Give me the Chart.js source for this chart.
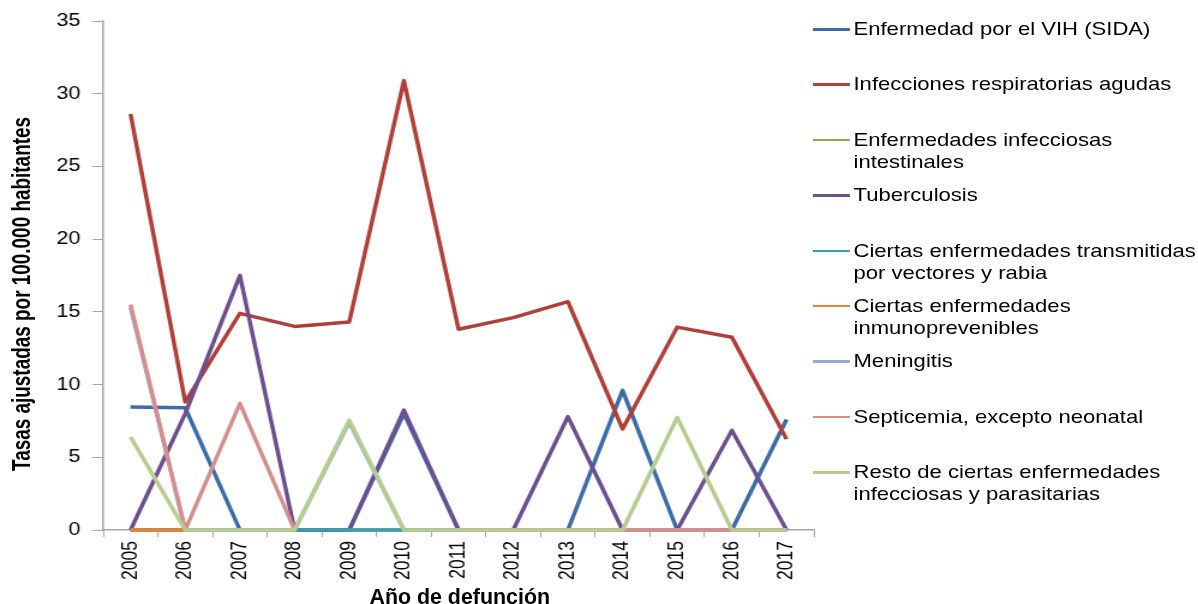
<!DOCTYPE html>
<html>
<head>
<meta charset="utf-8">
<script src="https://cdn.jsdelivr.net/npm/chart.js@4.4.1/dist/chart.umd.min.js"></script>
<style>
  html, body { margin: 0; padding: 0; background: #fff; }
  body { width: 1198px; height: 604px; overflow: hidden; position: relative; }
  /* the reference is horizontally stretched, so the whole stage is too */
  #stage { position: absolute; left: 0; top: 0; width: 998px; height: 604px; transform: scaleX(1.2004); transform-origin: 0 0; }
  #chart { position: absolute; left: 0; top: 0; }
  .title { position: absolute; font: bold 22px 'Liberation Sans', Arial, sans-serif; white-space: nowrap; color: #000; }
  .ytitle { left: 18px; top: 294px; transform: translate(-50%, -50%) rotate(-90deg) scale(0.86, 1); }
  .xtitle { left: 383px; top: 597px; transform: translate(-50%, -50%) scale(0.81, 1); font-size: 22px; }
  #legend { position: absolute; left: 677px; top: 18px; font: 18.4px 'Liberation Sans', Arial, sans-serif; color: #000; }
  .legend-item { position: relative; height: 55.4px; padding-left: 34px; line-height: 22px; white-space: pre; }
  .legend-line { position: absolute; left: 0; top: 10px; width: 31px; height: 2.5px; }
</style>
</head>
<body>
<div id="stage">
  <canvas id="chart" width="998" height="604"></canvas>
  <div class="title ytitle">Tasas ajustadas por 100.000 habitantes</div>
  <div class="title xtitle">Año de defunción</div>
  <div id="legend"></div>
</div>
<script>
(function(){
    'use strict';

    const years = ['2005','2006','2007','2008','2009','2010','2011','2012','2013','2014','2015','2016','2017'];

    const vih          = [8.45, 8.4, 0, 0, 0, 8.0, 0, 0, 0, 9.6, 0, 0, 7.6];
    const respiratorias= [28.6, 8.8, 14.9, 14.0, 14.3, 30.9, 13.8, 14.6, 15.7, 6.95, 13.95, 13.25, 6.25];
    const intestinales = [0, 0, 0, 0, 0, 0, 0, 0, 0, 0, 0, 0, 0];
    const tuberculosis = [0, 8.0, 17.5, 0, 0, 8.25, 0, 0, 7.8, 0, 0, 6.85, 0];
    const vectores     = [0, 0, 0, 0, 0, 0, 0, 0, 0, 0, 0, 0, 0];
    const inmuno       = [0, 0, 0, 0, null, null, 0, 0, 0, 0, 0, 0, 0];
    const meningitis   = [15.3, 0, 0, 0, 7.4, 0, 0, 0, 0, 0, 0, 0, 0];
    const septicemia   = [15.5, 0, 8.7, 0, null, null, 0, 0, 0, 0, 0, 0, 0];
    const resto        = [6.4, 0, 0, 0, 7.55, 0, 0, 0, 0, 0, 7.75, 0, 0];

    // legend wraps as in the original
    const seriesNames = [
        'Enfermedad por el VIH (SIDA)',
        'Infecciones respiratorias agudas',
        'Enfermedades infecciosas\nintestinales',
        'Tuberculosis',
        'Ciertas enfermedades transmitidas\npor vectores y rabia',
        'Ciertas enfermedades\ninmunoprevenibles',
        'Meningitis',
        'Septicemia, excepto neonatal',
        'Resto de ciertas enfermedades\ninfecciosas y parasitarias'
    ];
    const seriesData = [vih, respiratorias, intestinales, tuberculosis, vectores, inmuno, meningitis, septicemia, resto];

    const COLORS = ['#3D6DA8', '#B23E39', '#8AAE4B', '#6B4F8F', '#3C9BB4', '#E8823A', '#93ACD8', '#D48F8D', '#B7CD8F'];
    const AXIS = '#A6A6A6';
    const SANS = "'Liberation Sans', Arial, sans-serif";

    function qs(id){ return document.getElementById(id); }

    function renderLegend(container){
        container.innerHTML = seriesNames.map((n, i) =>
            `<div class="legend-item"><span class="legend-line" style="background:${COLORS[i]}"></span>${n}</div>`
        ).join('');
    }

    const datasets = seriesData.map((d, i) => ({
        label: seriesNames[i].replace('\n', ' '),
        data: d,
        borderColor: COLORS[i],
        backgroundColor: COLORS[i],
        borderWidth: 3.5,
        borderJoinStyle: 'round',
        pointRadius: 0,
        tension: 0,
        clip: false,                        // zero lines sit on the axis, keep them whole
        order: seriesData.length - 1 - i   // later series on top, like the original
    }));

    new Chart(qs('chart').getContext('2d'), {
        type: 'line',
        data: { labels: years, datasets: datasets },
        options: {
            responsive: false,
            animation: false,
            layout: { padding: { left: 0, top: 21, right: 320, bottom: 0 } },
            plugins: { legend: { display: false }, tooltip: { enabled: false } },
            scales: {
                x: {
                    offset: true,
                    grid: { drawOnChartArea: false, offset: true, tickLength: 7, color: AXIS },
                    border: { color: AXIS, width: 1.5 },
                    ticks: { minRotation: 90, maxRotation: 90, padding: 4, color: '#000', font: { family: SANS, size: 17.5 } },
                    afterFit(s){ s.height = 74; }
                },
                y: {
                    min: 0,
                    max: 35,
                    ticks: { stepSize: 5, padding: 10, color: '#000', font: { family: SANS, size: 18 } },
                    grid: { drawOnChartArea: false, tickLength: 9, color: AXIS },
                    border: { color: AXIS, width: 1.5 },
                    afterFit(s){ s.width = 86; }
                }
            }
        }
    });

    renderLegend(qs('legend'));
})();
</script>
</body>
</html>
